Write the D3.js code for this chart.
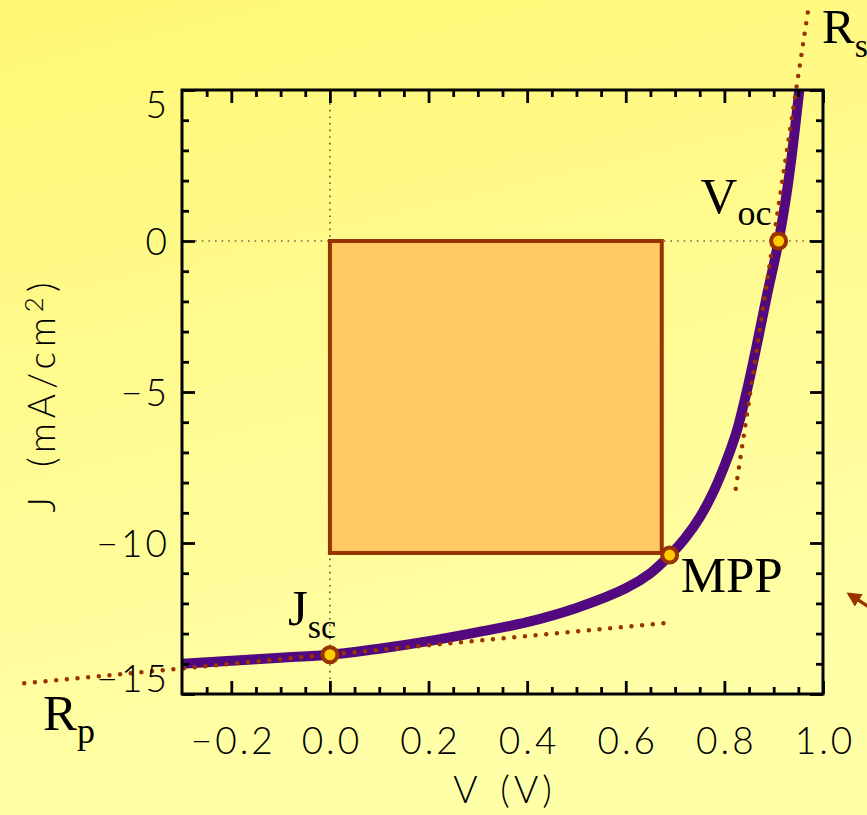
<!DOCTYPE html>
<html>
<head>
<meta charset="utf-8">
<script src="https://cdn.jsdelivr.net/npm/d3@7"></script>
<style>
  html, body { margin: 0; padding: 0; }
  body { width: 867px; height: 815px; overflow: hidden; }
  svg { display: block; }
</style>
</head>
<body>
<svg id="chart" width="867" height="815"></svg>
<script>
// J–V characteristic of a solar cell
const voltage = [-0.30, -0.20, -0.10, 0.00, 0.10, 0.20, 0.30, 0.40, 0.50, 0.60, 0.65, 0.69, 0.72, 0.75, 0.775, 0.80, 0.825, 0.845, 0.865, 0.885, 0.91, 0.93, 0.952];
const current = [-14.0, -13.9, -13.8, -13.7, -13.5, -13.25, -12.95, -12.62, -12.15, -11.5, -11.0, -10.4, -9.85, -9.15, -8.4, -7.45, -6.3, -5.0, -3.5, -1.9, 0.0, 2.0, 5.0];

// characteristic points
const pointNames = ["Jsc", "MPP", "Voc"];
const pointV = [0.0, 0.689, 0.91];
const pointJ = [-13.7, -10.4, 0.0];

// maximum power rectangle corner
const rectV = 0.673;
const rectJ = -10.33;

// tangent lines (series resistance near Voc, parallel resistance near Jsc)
const rsLineV = [0.823, 0.9695];
const rsLineJ = [-8.2, 7.6];
const rpLineV = [-0.62, 0.68];
const rpLineJ = [-14.64, -12.65];

// axes
const xDomain = [-0.3, 1.0];
const yDomain = [-15, 5];
const xMajor = [-0.2, 0.0, 0.2, 0.4, 0.6, 0.8, 1.0];
const xMinor = [-0.25, -0.15, -0.1, -0.05, 0.05, 0.1, 0.15, 0.25, 0.3, 0.35, 0.45, 0.5, 0.55, 0.65, 0.7, 0.75, 0.85, 0.9, 0.95];
const yMajor = [-15, -10, -5, 0, 5];
const yMinor = [-14, -13, -12, -11, -9, -8, -7, -6, -4, -3, -2, -1, 1, 2, 3, 4];
const xLabel = "V (V)";

const svg = d3.select("#chart");
const W = 867, H = 815;
const pLeft = 182, pRight = 823, pTop = 90, pBottom = 694;

const x = d3.scaleLinear().domain(xDomain).range([pLeft, pRight]);
const y = d3.scaleLinear().domain(yDomain).range([pBottom, pTop]);

const brown = "#993300";
const purple = "#52087e";
const tickFont = "Lato, 'Liberation Sans', Arial, sans-serif";
const serif = "'Liberation Serif', 'Times New Roman', serif";

// background
const defs = svg.append("defs");
const bg = defs.append("linearGradient").attr("id", "bg")
  .attr("x1", 0).attr("y1", 0).attr("x2", 0.25).attr("y2", 1);
bg.append("stop").attr("offset", "0%").attr("stop-color", "#fff873");
bg.append("stop").attr("offset", "55%").attr("stop-color", "#fffb94");
bg.append("stop").attr("offset", "100%").attr("stop-color", "#ffffa8");
svg.append("rect").attr("width", W).attr("height", H).attr("fill", "url(#bg)");

// zero guides
svg.append("line")
  .attr("x1", x(0)).attr("x2", x(0)).attr("y1", pTop).attr("y2", pBottom)
  .attr("stroke", "#222").attr("stroke-width", 1.2).attr("stroke-dasharray", "1.6 5");
svg.append("line")
  .attr("x1", pLeft).attr("x2", pRight).attr("y1", y(0)).attr("y2", y(0))
  .attr("stroke", "#222").attr("stroke-width", 1.2).attr("stroke-dasharray", "1.6 5");

// power rectangle
svg.append("rect")
  .attr("x", x(0)).attr("y", y(0))
  .attr("width", x(rectV) - x(0)).attr("height", y(rectJ) - y(0))
  .attr("fill", "#ffc966").attr("stroke", brown).attr("stroke-width", 4);

// J–V curve
const jv = voltage.map((v, i) => [v, current[i]]);
svg.append("path")
  .datum(jv)
  .attr("d", d3.line().x(d => x(d[0])).y(d => y(d[1])).curve(d3.curveCatmullRom.alpha(0.5)))
  .attr("fill", "none").attr("stroke", purple).attr("stroke-width", 10);

// resistance tangents
function dottedLine(vs, js) {
  svg.append("line")
    .attr("x1", x(vs[0])).attr("y1", y(js[0]))
    .attr("x2", x(vs[1])).attr("y2", y(js[1]))
    .attr("stroke", brown).attr("stroke-width", 4.5)
    .attr("stroke-linecap", "round").attr("stroke-dasharray", "0 10.7");
}
dottedLine(rpLineV, rpLineJ);
dottedLine(rsLineV, rsLineJ);

// frame and ticks
function styleAxis(g) {
  g.select(".domain").remove();
  g.selectAll(".tick line").attr("stroke", "#000").attr("stroke-width", 2.8);
  g.selectAll(".tick text").attr("fill", "#000")
    .style("font-family", tickFont).style("font-size", "37px").style("font-weight", 300)
    .style("letter-spacing", "3px");
}
const fmtX = d => d3.format(".1f")(d).replace("-", "\u2212");
const fmtY = d => d3.format("d")(d).replace("-", "\u2212");

// bottom
svg.append("g").attr("transform", `translate(0,${pBottom})`)
  .call(d3.axisBottom(x).tickValues(xMinor).tickSize(-7).tickFormat(""))
  .call(styleAxis);
svg.append("g").attr("transform", `translate(0,${pBottom})`)
  .call(d3.axisBottom(x).tickValues(xMajor).tickSize(-13).tickPadding(34).tickFormat(fmtX))
  .call(styleAxis)
  .selectAll(".tick text").attr("dx", "1.5px");
// top
svg.append("g").attr("transform", `translate(0,${pTop})`)
  .call(d3.axisTop(x).tickValues(xMinor).tickSize(-7).tickFormat(""))
  .call(styleAxis);
svg.append("g").attr("transform", `translate(0,${pTop})`)
  .call(d3.axisTop(x).tickValues(xMajor).tickSize(-13).tickFormat(""))
  .call(styleAxis);
// left
svg.append("g").attr("transform", `translate(${pLeft},0)`)
  .call(d3.axisLeft(y).tickValues(yMinor).tickSize(-7).tickFormat(""))
  .call(styleAxis);
const yAxisG = svg.append("g").attr("transform", `translate(${pLeft},0)`)
  .call(d3.axisLeft(y).tickValues(yMajor).tickSize(-13).tickPadding(12).tickFormat(fmtY))
  .call(styleAxis);
// keep the end labels inside the frame height
yAxisG.selectAll(".tick text")
  .attr("dy", d => d === yDomain[1] ? "0.74em" : d === yDomain[0] ? "-0.08em" : "0.36em");
// right
svg.append("g").attr("transform", `translate(${pRight},0)`)
  .call(d3.axisRight(y).tickValues(yMinor).tickSize(-7).tickFormat(""))
  .call(styleAxis);
svg.append("g").attr("transform", `translate(${pRight},0)`)
  .call(d3.axisRight(y).tickValues(yMajor).tickSize(-13).tickFormat(""))
  .call(styleAxis);

svg.append("rect")
  .attr("x", pLeft).attr("y", pTop).attr("width", pRight - pLeft).attr("height", pBottom - pTop)
  .attr("fill", "none").attr("stroke", "#000").attr("stroke-width", 3);

// axis titles
svg.append("text")
  .attr("x", (pLeft + pRight) / 2 + 2).attr("y", 803)
  .attr("text-anchor", "middle")
  .style("font-family", tickFont).style("font-size", "37px").style("font-weight", 300)
  .style("letter-spacing", "4px").style("word-spacing", "6px")
  .text(xLabel);

const yTitle = svg.append("text")
  .attr("transform", `translate(55,${(pTop + pBottom) / 2 + 3}) rotate(-90)`)
  .attr("text-anchor", "middle")
  .style("font-family", tickFont).style("font-size", "37px").style("font-weight", 300)
  .style("letter-spacing", "5px").style("word-spacing", "10px");
yTitle.append("tspan").text("J (mA/cm");
yTitle.append("tspan").attr("dy", "-0.45em").style("font-size", "26px").text("2");
yTitle.append("tspan").attr("dy", "0.31em").text(")");

// characteristic points
svg.selectAll("circle.pt")
  .data(pointNames.map((n, i) => ({ n, v: pointV[i], j: pointJ[i] })))
  .join("circle").attr("class", "pt")
  .attr("cx", d => x(d.v)).attr("cy", d => y(d.j))
  .attr("r", 7.5)
  .attr("fill", "#ffcc00").attr("stroke", brown).attr("stroke-width", 4);

// annotations
function subLabel(xp, yp, main, sub, size, subSize, subDrop) {
  const t = svg.append("text").attr("x", xp).attr("y", yp)
    .style("font-family", serif).style("font-size", size + "px").attr("fill", "#000");
  t.append("tspan").text(main);
  if (sub) t.append("tspan").attr("dy", subDrop).style("font-size", subSize + "px").text(sub);
}
subLabel(x(pointV[2]) - 78, y(pointJ[2]) - 28, "V", "oc", 51, 36, 12);
subLabel(x(pointV[0]) - 42, y(pointJ[0]) - 30, "J", "sc", 51, 34, 13);
subLabel(x(pointV[1]) + 11, y(pointJ[1]) + 37, "MPP", null, 51);
subLabel(x(rsLineV[1]) + 14, 43, "R", "s", 49, 34, 14);
subLabel(43, 730, "R", "p", 51, 36, 13);

// pointer arrow at the right margin
defs.append("marker").attr("id", "head")
  .attr("viewBox", "0 0 10 10").attr("refX", 8).attr("refY", 5)
  .attr("markerWidth", 4.2).attr("markerHeight", 4.2).attr("orient", "auto")
  .append("path").attr("d", "M0,0 L10,5 L0,10 z").attr("fill", brown);
svg.append("line")
  .attr("x1", 875).attr("y1", 611).attr("x2", 849).attr("y2", 594)
  .attr("stroke", brown).attr("stroke-width", 3.5)
  .attr("marker-end", "url(#head)");
</script>
</body>
</html>
